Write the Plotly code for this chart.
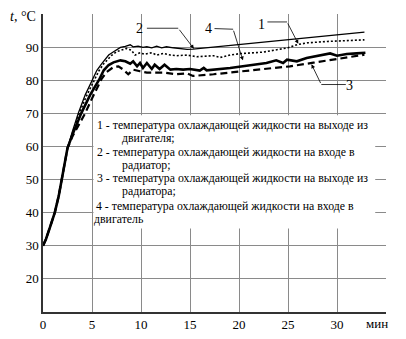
import plotly.graph_objects as go

# ---- data (minutes, °C) ----
t_c2 = [0, 0.3, 0.7, 1.2, 1.6, 1.9, 2.2, 2.5, 3.0, 3.6, 4.3, 5.0, 5.5, 6.0, 6.7, 7.2, 7.9, 8.4, 8.9,
        9.2, 9.7, 10.2, 10.6, 11.1, 11.6, 12.1, 12.6, 13.3, 14.0, 14.7, 15.3, 20.0, 25.0, 30.0, 32.8]
v_c2 = [30, 32, 35.5, 40, 45, 50, 55, 59.5, 64.5, 70, 75.5, 80, 83, 85, 87.6, 88.6, 89.9, 90.2, 90.7,
        90.1, 90.3, 89.9, 90.1, 89.8, 90.3, 89.8, 90.1, 89.8, 89.6, 89.3, 89.4, 90.8, 92.3, 93.7, 94.5]

t_c1 = [0, 0.3, 0.7, 1.2, 1.6, 1.9, 2.2, 2.5, 3.0, 3.7, 4.4, 5.2, 5.7, 6.2, 7.0, 7.5, 8.0, 8.5, 9.0,
        9.4, 9.9, 10.3, 10.6, 11.1, 11.6, 12.3, 13.0, 13.6, 14.7, 15.7, 17.4, 18.1, 19.1, 20.0, 22.5,
        24.0, 25.0, 26.0, 27.0, 29.0, 31.0, 32.8]
v_c1 = [30, 32, 35.5, 40, 45, 50, 55, 59.5, 64, 70, 75, 80, 82.8, 85, 87.5, 88.6, 89.1, 89.6, 89.1,
        87.6, 88.3, 87.9, 88.0, 88.3, 87.6, 88.1, 87.6, 87.4, 87.6, 87.1, 87.4, 86.9, 87.6, 88.0, 88.5,
        89.2, 89.8, 90.8, 91.3, 91.7, 92.0, 92.2]

t_c4 = [0, 0.3, 0.7, 1.2, 1.6, 1.9, 2.2, 2.5, 3.0, 3.9, 4.8, 5.7, 6.2, 6.7, 7.2, 7.9, 8.4, 8.9, 9.2,
        9.6, 9.9, 10.2, 10.6, 11.1, 11.4, 11.9, 12.4, 13.0, 13.6, 14.3, 15.0, 16.0, 16.4, 16.7, 19.1,
        20.8, 22.8, 23.8, 24.5, 24.9, 25.5, 25.9, 26.9, 28.3, 29.3, 30.0, 31.0, 32.0, 32.9]
v_c4 = [30, 32, 35.5, 40, 45, 50, 55, 59.5, 63.5, 70, 75.5, 80, 83, 84.6, 85.4, 86.0, 85.7, 85.0, 85.7,
        84.2, 85.2, 83.7, 85.2, 83.4, 84.7, 83.4, 84.7, 83.2, 83.4, 83.2, 83.4, 82.9, 83.7, 83.0, 83.7,
        84.4, 85.2, 86.0, 85.2, 86.2, 86.0, 85.7, 86.7, 87.4, 88.1, 87.4, 87.9, 88.1, 88.3]

t_c3 = [0, 0.3, 0.7, 1.2, 1.6, 1.9, 2.2, 2.5, 3.0, 4.3, 5.0, 6.0, 6.5, 7.2, 7.7, 8.2, 8.7, 9.2, 9.9,
        10.6, 12.3, 13.6, 14.7, 15.3, 17.4, 20.8, 25.2, 27.6, 30.0, 32.8]
v_c3 = [30, 32, 35.5, 40, 45, 50, 55, 59.5, 63, 70, 74.5, 80.5, 82.5, 84.0, 84.2, 83.2, 81.8, 83.2, 82.7,
        82.3, 82.3, 81.8, 82.1, 81.3, 81.8, 82.8, 84.2, 85.3, 86.5, 87.7]

x_ticks = [0, 5, 10, 15, 20, 25, 30, 35]
x_labels = ["0", "5", "10", "15", "20", "25", "30", ""]
y_ticks = [10, 20, 30, 40, 50, 60, 70, 80, 90, 100]
y_labels = ["", "20", "30", "40", "50", "60", "70", "80", "90", ""]

legend_lines = [
    "1 - температура охлаждающей жидкости на выходе из",
    "двигателя;",
    "2 - температура охлаждающей жидкости на входе в",
    "радиатор;",
    "3 - температура охлаждающей жидкости на выходе из",
    "радиатора;",
    "4 - температура охлаждающей жидкости на входе в",
    "двигатель",
]

SERIF = "Liberation Serif, Times New Roman, DejaVu Serif, serif"

fig = go.Figure()
fig.add_trace(go.Scatter(x=t_c3, y=v_c3, mode="lines",
                         line=dict(color="black", width=2.2, dash="7px,4px"), hoverinfo="skip"))
fig.add_trace(go.Scatter(x=t_c1, y=v_c1, mode="lines",
                         line=dict(color="black", width=1.6, dash="2px,2px"), hoverinfo="skip"))
fig.add_trace(go.Scatter(x=t_c2, y=v_c2, mode="lines",
                         line=dict(color="black", width=1.3), hoverinfo="skip"))
fig.add_trace(go.Scatter(x=t_c4, y=v_c4, mode="lines",
                         line=dict(color="black", width=2.6), hoverinfo="skip"))

# white box behind the caption text
fig.add_shape(type="rect", xref="x", yref="y", x0=5.15, x1=33.9, y0=35.2, y1=69.4,
              fillcolor="white", line=dict(width=0), layer="above")

# caption text
legend_x = [5.3, 7.85, 5.3, 7.85, 5.3, 7.85, 5.2, 5.0]
legend_y = [66.5, 62.7, 58.4, 54.5, 50.6, 46.4, 42.0, 38.0]
for txt, lx, ly in zip(legend_lines, legend_x, legend_y):
    fig.add_annotation(x=lx, y=ly, xref="x", yref="y", text=txt, showarrow=False,
                       xanchor="left", yanchor="middle",
                       font=dict(family=SERIF, size=11.8, color="black"))

# curve labels with leader lines
labels = [
    # text, text pos, knee start, knee end, arrow tip
    ("2", (9.8, 95.7), (10.6, 95.7), (13.8, 95.7), (15.4, 89.5)),
    ("4", (16.9, 95.5), (17.5, 95.6), (19.4, 95.4), (20.4, 86.0)),
    ("1", (22.3, 96.9), (22.9, 97.6), (24.9, 97.6), (26.05, 91.0)),
    ("3", (31.3, 78.5), (30.9, 78.7), (28.4, 78.7), (27.4, 84.8)),
]
for txt, tp, k0, k1, tip in labels:
    fig.add_annotation(x=tp[0], y=tp[1], xref="x", yref="y", text=txt, showarrow=False,
                       xanchor="center", yanchor="middle",
                       font=dict(family=SERIF, size=14, color="black"))
    fig.add_shape(type="line", xref="x", yref="y", x0=k0[0], y0=k0[1], x1=k1[0], y1=k1[1],
                  line=dict(color="black", width=0.8))
    fig.add_annotation(x=tip[0], y=tip[1], ax=k1[0], ay=k1[1], xref="x", yref="y",
                       axref="x", ayref="y", text="", showarrow=True,
                       arrowhead=2, arrowsize=1.0, arrowwidth=0.8, arrowcolor="black")

# axis captions
fig.add_annotation(x=-0.015, y=0.993, xref="paper", yref="paper", text="<i>t</i>, °C",
                   showarrow=False, xanchor="right", yanchor="middle",
                   font=dict(family=SERIF, size=14, color="black"))
fig.add_annotation(x=0.974, y=-0.037, xref="paper", yref="paper", text="мин",
                   showarrow=False, xanchor="center", yanchor="middle",
                   font=dict(family=SERIF, size=13, color="black"))

fig.update_xaxes(range=[0, 35], tickvals=x_ticks, ticktext=x_labels,
                 showgrid=True, gridcolor="#8a8a8a", gridwidth=1,
                 showline=True, linecolor="#333333", linewidth=1.5, zeroline=False,
                 tickfont=dict(family=SERIF, size=13, color="black"), ticks="")
fig.update_yaxes(range=[10, 100], tickvals=y_ticks, ticktext=y_labels,
                 showgrid=True, gridcolor="#8a8a8a", gridwidth=1,
                 showline=True, linecolor="#333333", linewidth=1.5, zeroline=False,
                 tickfont=dict(family=SERIF, size=13, color="black"), ticks="")

# page body keeps its default 8px margin, so the figure is drawn 8px smaller
fig.update_layout(width=398, height=331, margin=dict(l=35, r=20, t=6, b=27),
                  plot_bgcolor="white", paper_bgcolor="white", showlegend=False)

fig.write_html("out.html")
